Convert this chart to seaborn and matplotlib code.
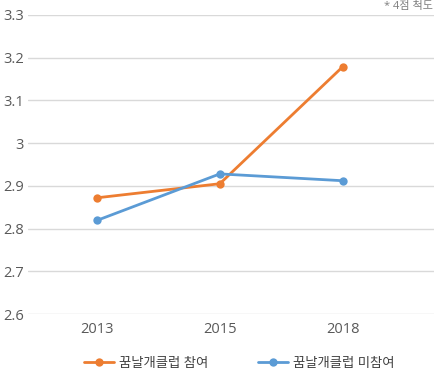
import matplotlib
matplotlib.use("Agg")
import matplotlib.pyplot as plt
import seaborn as sns
import pandas as pd

years = ["2013", "2015", "2018"]
series_names = ["꿈날개클럽 참여", "꿈날개클럽 미참여"]
participate = [2.872, 2.905, 3.179]
non_participate = [2.819, 2.928, 2.912]
y_ticks = [2.6, 2.7, 2.8, 2.9, 3.0, 3.1, 3.2, 3.3]
y_labels = ["2.6", "2.7", "2.8", "2.9", "3", "3.1", "3.2", "3.3"]
note = "* 4점 척도"

sns.set_theme(style="white")
plt.rcParams["font.family"] = ["Open Sans", "Noto Sans CJK KR", "DejaVu Sans"]

df = pd.DataFrame({
    "year": years * 2,
    "value": participate + non_participate,
    "series": [series_names[0]] * 3 + [series_names[1]] * 3,
})

fig = plt.figure(figsize=(4.35, 3.72), dpi=100)
ax = fig.add_axes([28 / 435, 1 - 314 / 372, 1 - 28 / 435, (314 - 15) / 372])

palette = {series_names[0]: "#ED7D31", series_names[1]: "#5B9BD5"}
sns.lineplot(data=df, x="year", y="value", hue="series", palette=palette,
             marker="o", markersize=6, markeredgewidth=0, linewidth=2,
             ax=ax, sort=False)

ax.set_ylim(2.6, 3.3)
ax.set_xlim(-0.56, 2.75)
ax.set_yticks(y_ticks)
ax.set_yticklabels(y_labels)
ax.set_xlabel("")
ax.set_ylabel("")
ax.grid(axis="y", color="#d9d9d9", linewidth=1)
ax.grid(axis="x", visible=False)
for s in ax.spines.values():
    s.set_visible(False)
ax.tick_params(axis="both", length=0, labelsize=10.5, labelcolor="#595959")
ax.tick_params(axis="y", pad=3)
ax.tick_params(axis="x", pad=6)

handles, labels = ax.get_legend_handles_labels()
ax.get_legend().remove()
fig.legend(handles, labels, loc="center left",
           bbox_to_anchor=(84 / 435, 1 - 363 / 372),
           ncol=2, frameon=False, fontsize=9.6, handlelength=2.25,
           columnspacing=3.7, handletextpad=0.38, labelcolor="#404040",
           borderaxespad=0, borderpad=0)

fig.text(433 / 435, 1 - 6 / 372, note, ha="right", va="center",
         fontsize=8, color="#7f7f7f")

fig.savefig("out.png", dpi=100)
